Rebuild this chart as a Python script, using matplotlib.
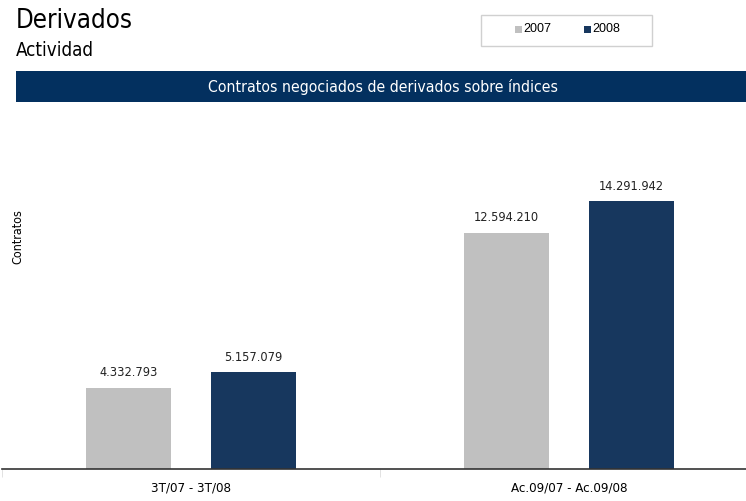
import matplotlib
matplotlib.use("Agg")
import matplotlib.pyplot as plt
from matplotlib.patches import Rectangle
import numpy as np

plt.rcParams['font.family'] = ['DejaVu Sans']
plt.rcParams['font.stretch'] = 'condensed'

categories = ["3T/07 - 3T/08", "Ac.09/07 - Ac.09/08"]
series_names = ["2007", "2008"]
values_2007 = [4332793, 12594210]
values_2008 = [5157079, 14291942]
value_labels_2007 = ["4.332.793", "12.594.210"]
value_labels_2008 = ["5.157.079", "14.291.942"]

GRAY = "#C0C0C0"
NAVY = "#17375E"
BANNER = "#03305F"

W, H = 746, 501
fig = plt.figure(figsize=(W / 100, H / 100), dpi=100)

ax_left, ax_right = 2, 758
ax_bottom, ax_top = 469, 105
ax = fig.add_axes([ax_left / W, (H - ax_bottom) / H, (ax_right - ax_left) / W, (ax_bottom - ax_top) / H])
px_per_unit = 53350.0
ymax = (ax_bottom - ax_top) * px_per_unit

x = np.arange(len(categories))
bw = 0.224
off = 0.166
b1 = ax.bar(x - off, values_2007, bw, color=GRAY, label=series_names[0])
b2 = ax.bar(x + off, values_2008, bw, color=NAVY, label=series_names[1])
for rect, lab in zip(b1, value_labels_2007):
    ax.text(rect.get_x() + rect.get_width() / 2, rect.get_height() + 0.45e6, lab,
            ha='center', va='bottom', fontsize=9.2, color='#222222')
for rect, lab in zip(b2, value_labels_2008):
    ax.text(rect.get_x() + rect.get_width() / 2, rect.get_height() + 0.45e6, lab,
            ha='center', va='bottom', fontsize=9.2, color='#222222')

ax.set_xlim(-0.5, len(categories) - 0.5)
ax.set_ylim(0, ymax)
for s in ['top', 'right', 'left']:
    ax.spines[s].set_visible(False)
ax.spines['bottom'].set_color('#333333')
ax.spines['bottom'].set_linewidth(1.2)
ax.set_yticks([])
ax.set_xticks(x)
ax.set_xticklabels(categories, fontsize=9.5)
ax.tick_params(axis='x', length=0, pad=9)
ax.set_xticks([-0.5, 0.5, 1.5], minor=True)
ax.tick_params(axis='x', which='minor', length=6, color='#dddddd', direction='out')

fig.text(18 / W, 1 - 237 / H, "Contratos", rotation=90, ha='center', va='center', fontsize=9)

fig.text(16 / W, 1 - 21 / H, "Derivados", ha='left', va='center', fontsize=18.5)
fig.text(16 / W, 1 - 50 / H, "Actividad", ha='left', va='center', fontsize=13.5)

fig.patches.append(Rectangle((16 / W, 1 - 102 / H), (W - 16) / W, 31 / H,
                             transform=fig.transFigure, facecolor=BANNER, edgecolor='none'))
fig.text(383 / W, 1 - 87 / H, "Contratos negociados de derivados sobre índices",
         ha='center', va='center', fontsize=11.3, color='white')

fig.patches.append(Rectangle((481 / W, 1 - 46 / H), 171 / W, 31 / H,
                             transform=fig.transFigure, facecolor='white', edgecolor='#d0d0d0', lw=1))
for sx, col, name in [(515, GRAY, series_names[0]), (584, NAVY, series_names[1])]:
    fig.patches.append(Rectangle((sx / W, 1 - 33 / H), 7 / W, 7 / H,
                                 transform=fig.transFigure, facecolor=col, edgecolor='none'))
    fig.text((sx + 8) / W, 1 - 29.5 / H, name, ha='left', va='center', fontsize=9,
             family=['Liberation Sans', 'DejaVu Sans'], stretch='normal')

fig.savefig("out.png", dpi=100)
